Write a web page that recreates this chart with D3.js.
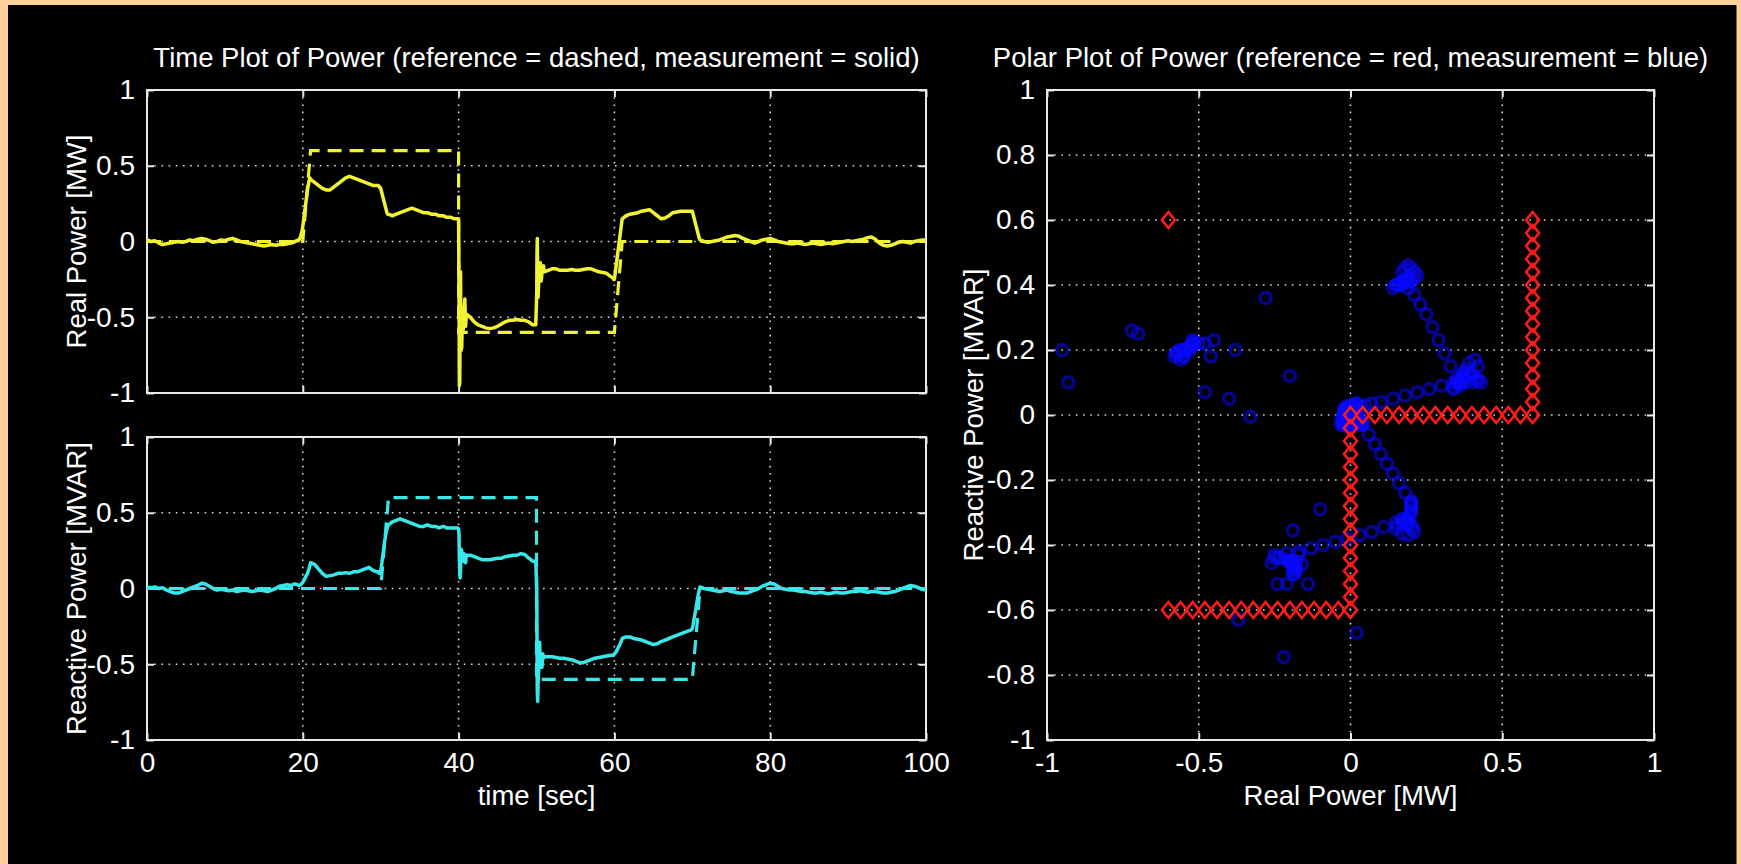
<!DOCTYPE html>
<html>
<head>
<meta charset="utf-8">
<script src="https://cdnjs.cloudflare.com/ajax/libs/d3/7.8.5/d3.min.js"></script>
<style>
  body { margin: 0; background: #ffcf99; }
  text { font-family: "Liberation Sans", Arial, sans-serif; fill: #fff; }
</style>
</head>
<body>
<div id="chartCont"></div>
<script>
// measured signals (time in sec, power in MW / MVAR)
let timeSec = [
  0, 0.5, 1, 1.5, 2, 2.5, 3, 3.5, 4, 4.5, 5, 5.5, 6, 6.5, 7, 7.5, 8, 8.5, 9, 9.5,
  10, 10.5, 11, 11.5, 12, 12.5, 13, 13.5, 14, 14.5, 15, 15.5, 16, 16.5, 17, 17.5, 18, 18.5, 19, 19.5,
  19.6, 19.7, 19.8, 19.9, 20, 20.1, 20.2, 20.3, 20.4, 20.5, 20.6, 20.7, 20.8, 20.9, 21,
  21.5, 22, 22.5, 23, 23.5, 24, 24.5, 25, 25.5, 26, 26.5, 27, 27.5, 28, 28.5, 29, 29.5,
  29.6, 29.7, 29.8, 29.9, 30, 30.1, 30.2, 30.3, 30.4, 30.5, 30.6, 30.7, 30.8, 30.9, 31,
  31.5, 32, 32.5, 33, 33.5, 34, 34.5, 35, 35.5, 36, 36.5, 37, 37.5, 38, 38.5, 39, 39.5,
  39.9, 40, 40.05, 40.1, 40.15, 40.2, 40.25, 40.3, 40.4, 40.5, 40.6, 40.7, 40.8, 40.9, 41,
  41.5, 42, 42.5, 43, 43.5, 44, 44.5, 45, 45.5, 46, 46.5, 47, 47.5, 48, 48.5, 49, 49.5,
  49.9, 50, 50.03, 50.06, 50.1, 50.15, 50.2, 50.3, 50.4, 50.5, 50.6, 50.7, 50.8, 50.9, 51,
  51.5, 52, 52.5, 53, 53.5, 54, 54.5, 55, 55.5, 56, 56.5, 57, 57.5, 58, 58.5, 59, 59.5,
  59.8, 59.9, 60, 60.1, 60.2, 60.3, 60.4, 60.5, 60.6, 60.7, 60.8, 60.9, 61,
  61.5, 62, 62.5, 63, 63.5, 64, 64.5, 65, 65.5, 66, 66.5, 67, 67.5, 68, 68.5, 69, 69.5,
  69.8, 69.9, 70, 70.1, 70.2, 70.3, 70.4, 70.5, 70.6, 70.7, 70.8, 70.9, 71,
  71.5, 72, 72.5, 73, 73.5, 74, 74.5, 75, 75.5, 76, 76.5, 77, 77.5, 78, 78.5, 79, 79.5, 80, 80.5, 81,
  81.5, 82, 82.5, 83, 83.5, 84, 84.5, 85, 85.5, 86, 86.5, 87, 87.5, 88, 88.5, 89, 89.5, 90, 90.5, 91,
  91.5, 92, 92.5, 93, 93.5, 94, 94.5, 95, 95.5, 96, 96.5, 97, 97.5, 98, 98.5, 99, 99.5, 100
];

let realPower = [
  .01, .00, .005, -.01, -.02, -.015, -.01, -.005, .00, -.005, .00, .01, .005, .015, .02, .015, .005, -.005, .00, .01,
  .005, .015, .02, .01, .00, -.005, -.01, -.015, -.02, -.025, -.03, -.025, -.02, -.025, -.02, -.02, -.015, -.01, .00, .01,
  .02, .03, .05, .07, .10, .14, .18, .22, .26, .30, .34, .37, .40, .42, .41,
  .39, .37, .35, .34, .34, .36, .38, .40, .42, .43, .42, .41, .40, .39, .38, .37, .37,
  .37, .37, .36, .36, .35, .33, .31, .29, .27, .25, .23, .21, .19, .18, .18,
  .17, .18, .19, .20, .21, .22, .21, .20, .19, .19, .18, .18, .17, .17, .16, .16, .15,
  .15, .14, -.28, -.95, -.93, -.48, -.20, -.72, -.70, -.46, -.58, -.45, -.38, -.56, -.48,
  -.50, -.53, -.55, -.56, -.57, -.575, -.57, -.56, -.545, -.53, -.52, -.52, -.515, -.52, -.52, -.53, -.55,
  -.55, -.40, -.33, -.10, .02, -.22, -.37, -.24, -.19, -.14, -.26, -.21, -.17, -.16, -.20,
  -.19, -.18, -.18, -.19, -.19, -.19, -.185, -.19, -.19, -.185, -.18, -.18, -.19, -.20, -.205, -.21, -.23,
  -.24, -.25, -.25, -.21, -.17, -.13, -.09, -.05, -.01, .03, .07, .11, .15,
  .17, .18, .185, .19, .20, .205, .21, .19, .17, .15, .155, .17, .19, .195, .20, .20, .20,
  .20, .20, .20, .18, .16, .14, .12, .10, .08, .06, .04, .02, .01,
  .00, -.005, .00, .005, .01, .02, .03, .035, .04, .035, .02, .01, .00, -.01, .00, .01, .015, .02, .01, .00,
  -.005, -.01, -.015, -.015, -.01, -.015, -.02, -.015, -.01, -.015, -.02, -.015, -.01, -.015, -.01, -.005, .00, .005, .00, .005,
  .01, .015, .025, .03, .015, -.01, -.025, -.03, -.025, -.015, -.005, .00, -.005, -.01, .00, .005, .01, .01
];

let reactivePower = [
  .01, .005, .01, .00, .005, -.01, -.02, -.03, -.03, -.02, -.01, .00, .01, .02, .035, .03, .015, .00, -.01, -.005,
  -.01, -.015, -.01, -.02, -.015, -.01, -.015, -.02, -.015, -.01, -.015, -.02, -.01, .00, .015, .02, .025, .02, .03, .02,
  .02, .025, .03, .035, .04, .05, .06, .07, .08, .09, .10, .115, .13, .15, .17,
  .16, .13, .10, .08, .085, .09, .10, .10, .105, .10, .11, .11, .12, .13, .14, .12, .11,
  .11, .11, .10, .10, .11, .15, .19, .23, .27, .31, .34, .37, .39, .41, .42,
  .44, .45, .46, .45, .44, .43, .42, .41, .41, .42, .41, .41, .40, .41, .40, .40, .40,
  .40, .39, .36, .20, .10, .07, .12, .26, .25, .18, .18, .23, .20, .17, .22,
  .22, .21, .20, .19, .19, .19, .195, .20, .20, .21, .215, .22, .22, .23, .225, .20, .18,
  .18, .05, -.005, -.29, -.67, -.745, -.63, -.52, -.355, -.52, -.455, -.52, -.43, -.46, -.45,
  -.45, -.45, -.455, -.46, -.46, -.465, -.47, -.48, -.49, -.49, -.48, -.47, -.46, -.455, -.45, -.445, -.44,
  -.44, -.44, -.43, -.425, -.42, -.41, -.40, -.39, -.38, -.37, -.36, -.345, -.33,
  -.32, -.32, -.33, -.335, -.34, -.35, -.36, -.37, -.365, -.35, -.34, -.33, -.32, -.31, -.30, -.29, -.28,
  -.275, -.27, -.265, -.24, -.21, -.18, -.15, -.12, -.09, -.06, -.03, -.01, .01,
  .00, -.005, -.01, -.015, -.02, -.015, -.01, -.02, -.025, -.03, -.03, -.03, -.02, -.01, .00, .015, .025, .035, .03, .015,
  .00, -.005, -.01, -.01, -.015, -.02, -.02, -.025, -.03, -.03, -.025, -.03, -.035, -.03, -.025, -.03, -.03, -.025, -.02, -.02,
  -.015, -.02, -.025, -.02, -.02, -.025, -.03, -.03, -.025, -.02, -.01, .00, .01, .02, .015, .005, -.005, -.01
];

// reference set points (dashed)
let refRealTime = [0, 20, 21, 40, 40, 60, 61, 100];
let refRealValue = [0, 0, 0.6, 0.6, -0.6, -0.6, 0, 0];
let refReactiveTime = [0, 30, 31, 50, 50, 70, 71, 100];
let refReactiveValue = [0, 0, 0.6, 0.6, -0.6, -0.6, 0, 0];

// reference samples for the polar plot (red diamonds)
let polarRefReal = [
  0, .04, .08, .12, .16, .20, .24, .28, .32, .36, .40, .44, .48, .52, .56, .60,
  .6, .6, .6, .6, .6, .6, .6, .6, .6, .6, .6, .6, .6, .6, .6,
  -.6,
  -.6, -.56, -.52, -.48, -.44, -.40, -.36, -.32, -.28, -.24, -.20, -.16, -.12, -.08, -.04, 0,
  0, 0, 0, 0, 0, 0, 0, 0, 0, 0, 0, 0, 0, 0
];
let polarRefReactive = [
  0, 0, 0, 0, 0, 0, 0, 0, 0, 0, 0, 0, 0, 0, 0, 0,
  .04, .08, .12, .16, .20, .24, .28, .32, .36, .40, .44, .48, .52, .56, .60,
  .6,
  -.6, -.6, -.6, -.6, -.6, -.6, -.6, -.6, -.6, -.6, -.6, -.6, -.6, -.6, -.6, -.6,
  -.56, -.52, -.48, -.44, -.40, -.36, -.32, -.28, -.24, -.20, -.16, -.12, -.08, -.04
];

let timeTicks = [0, 20, 40, 60, 80, 100];
let powerTicks = [-1, -0.5, 0, 0.5, 1];
let polarRealTicks = [-1, -0.5, 0, 0.5, 1];
let polarReactiveTicks = [-1, -0.8, -0.6, -0.4, -0.2, 0, 0.2, 0.4, 0.6, 0.8, 1];

(function() {
  let width = 1741,
    height = 864;

  let svg = d3.select("#chartCont")
    .append("svg")
    .attr("width", width)
    .attr("height", height);

  svg.append("rect")
    .attr("width", width).attr("height", height)
    .attr("fill", "#ffcf99");
  svg.append("rect")
    .attr("x", 8).attr("y", 5)
    .attr("width", 1728.5).attr("height", height - 5)
    .attr("fill", "#000");

  let xTime = d3.scaleLinear().domain([0, 100]).range([147, 926]);
  let yReal = d3.scaleLinear().domain([-1, 1]).range([393, 90]);
  let yReact = d3.scaleLinear().domain([-1, 1]).range([740, 437]);
  let xPolar = d3.scaleLinear().domain([-1, 1]).range([1047, 1654]);
  let yPolar = d3.scaleLinear().domain([-1, 1]).range([740, 90]);

  let fmt = function(d) { return String(d); };

  // box, dotted grid and inward ticks on all four sides, like matlab "box on"
  function drawAxes(x, y, xTicks, yTicks, xLabels) {
    let g = svg.append("g");
    let x0 = x.range()[0], x1 = x.range()[1],
      yb = y.range()[0], yt = y.range()[1];

    g.selectAll(".gridx")
      .data(xTicks.slice(1, -1))
      .enter().append("line")
      .attr("x1", function(d) { return x(d); })
      .attr("x2", function(d) { return x(d); })
      .attr("y1", yt).attr("y2", yb)
      .attr("stroke", "#d8d8d8").attr("stroke-width", 1.6)
      .attr("stroke-dasharray", "1.6,5.6");

    g.selectAll(".gridy")
      .data(yTicks.slice(1, -1))
      .enter().append("line")
      .attr("y1", function(d) { return y(d); })
      .attr("y2", function(d) { return y(d); })
      .attr("x1", x0).attr("x2", x1)
      .attr("stroke", "#d8d8d8").attr("stroke-width", 1.6)
      .attr("stroke-dasharray", "1.6,5.6");

    let axes = [
      g.append("g").attr("transform", "translate(0," + yb + ")")
        .call(d3.axisBottom(x).tickValues(xTicks).tickSize(-7).tickPadding(12)
          .tickFormat(xLabels ? fmt : "")),
      g.append("g").attr("transform", "translate(0," + yt + ")")
        .call(d3.axisTop(x).tickValues(xTicks).tickSize(-7).tickFormat("")),
      g.append("g").attr("transform", "translate(" + x0 + ",0)")
        .call(d3.axisLeft(y).tickValues(yTicks).tickSize(-7).tickPadding(12).tickFormat(fmt)),
      g.append("g").attr("transform", "translate(" + x1 + ",0)")
        .call(d3.axisRight(y).tickValues(yTicks).tickSize(-7).tickFormat(""))
    ];
    axes.forEach(function(a) {
      a.select(".domain").remove();
      a.selectAll(".tick line").attr("stroke", "#e8e8e8").attr("stroke-width", 2);
      a.selectAll(".tick text")
        .attr("fill", "#fff")
        .style("font-size", "28px")
        .style("font-family", "'Liberation Sans', Arial, sans-serif");
    });

    g.append("rect")
      .attr("x", x0).attr("y", yt)
      .attr("width", x1 - x0).attr("height", yb - yt)
      .attr("fill", "none")
      .attr("stroke", "#e8e8e8").attr("stroke-width", 2);
  }

  drawAxes(xTime, yReal, timeTicks, powerTicks, false);
  drawAxes(xTime, yReact, timeTicks, powerTicks, true);
  drawAxes(xPolar, yPolar, polarRealTicks, polarReactiveTicks, true);

  // time plots
  function drawTrace(yScale, refT, refV, meas, color) {
    let refLine = d3.line()
      .x(function(d, i) { return xTime(refT[i]); })
      .y(function(d) { return yScale(d); });
    let measLine = d3.line()
      .x(function(d, i) { return xTime(timeSec[i]); })
      .y(function(d) { return yScale(d); });

    svg.append("path")
      .datum(refV)
      .attr("d", refLine)
      .attr("fill", "none")
      .attr("stroke", color)
      .attr("stroke-width", 3.2)
      .attr("stroke-dasharray", "14,8");

    svg.append("path")
      .datum(meas)
      .attr("d", measLine)
      .attr("fill", "none")
      .attr("stroke", color)
      .attr("stroke-width", 3.5)
      .attr("stroke-linejoin", "round");
  }

  drawTrace(yReal, refRealTime, refRealValue, realPower, "#f2f234");
  drawTrace(yReact, refReactiveTime, refReactiveValue, reactivePower, "#38e8e8");

  // polar plot: measurement circles, then reference diamonds on top
  svg.append("g")
    .selectAll("circle")
    .data(realPower)
    .enter().append("circle")
    .attr("cx", function(d) { return xPolar(d); })
    .attr("cy", function(d, i) { return yPolar(reactivePower[i]); })
    .attr("r", 5.5)
    .attr("fill", "none")
    .attr("stroke", "#0a0aff")
    .attr("stroke-opacity", 0.55)
    .attr("stroke-width", 3.6);

  let diamond = {
    draw: function(context, size) {
      let w = 6.5, h = 8;
      context.moveTo(0, -h);
      context.lineTo(w, 0);
      context.lineTo(0, h);
      context.lineTo(-w, 0);
      context.closePath();
    }
  };

  svg.append("g")
    .selectAll("path")
    .data(polarRefReal)
    .enter().append("path")
    .attr("d", d3.symbol().type(diamond))
    .attr("transform", function(d, i) {
      return "translate(" + xPolar(d) + "," + yPolar(polarRefReactive[i]) + ")";
    })
    .attr("fill", "none")
    .attr("stroke", "#ff1a1a")
    .attr("stroke-width", 2.6);

  // titles and axis labels
  let labels = [
    { text: "Time Plot of Power (reference = dashed, measurement = solid)", x: 536.5, y: 67, rot: false },
    { text: "Polar Plot of Power (reference = red, measurement = blue)", x: 1350.5, y: 67, rot: false },
    { text: "time [sec]", x: 536.5, y: 805, rot: false },
    { text: "Real Power [MW]", x: 1350.5, y: 805, rot: false },
    { text: "Real Power [MW]", x: 86, y: 241.5, rot: true },
    { text: "Reactive Power [MVAR]", x: 86, y: 588.5, rot: true },
    { text: "Reactive Power [MVAR]", x: 983, y: 415, rot: true }
  ];

  svg.selectAll(".label")
    .data(labels)
    .enter().append("text")
    .attr("class", "label")
    .attr("text-anchor", "middle")
    .attr("transform", function(d) {
      return "translate(" + d.x + "," + d.y + ")" + (d.rot ? " rotate(-90)" : "");
    })
    .style("font-size", "27.5px")
    .text(function(d) { return d.text; });
})();
</script>
</body>
</html>
